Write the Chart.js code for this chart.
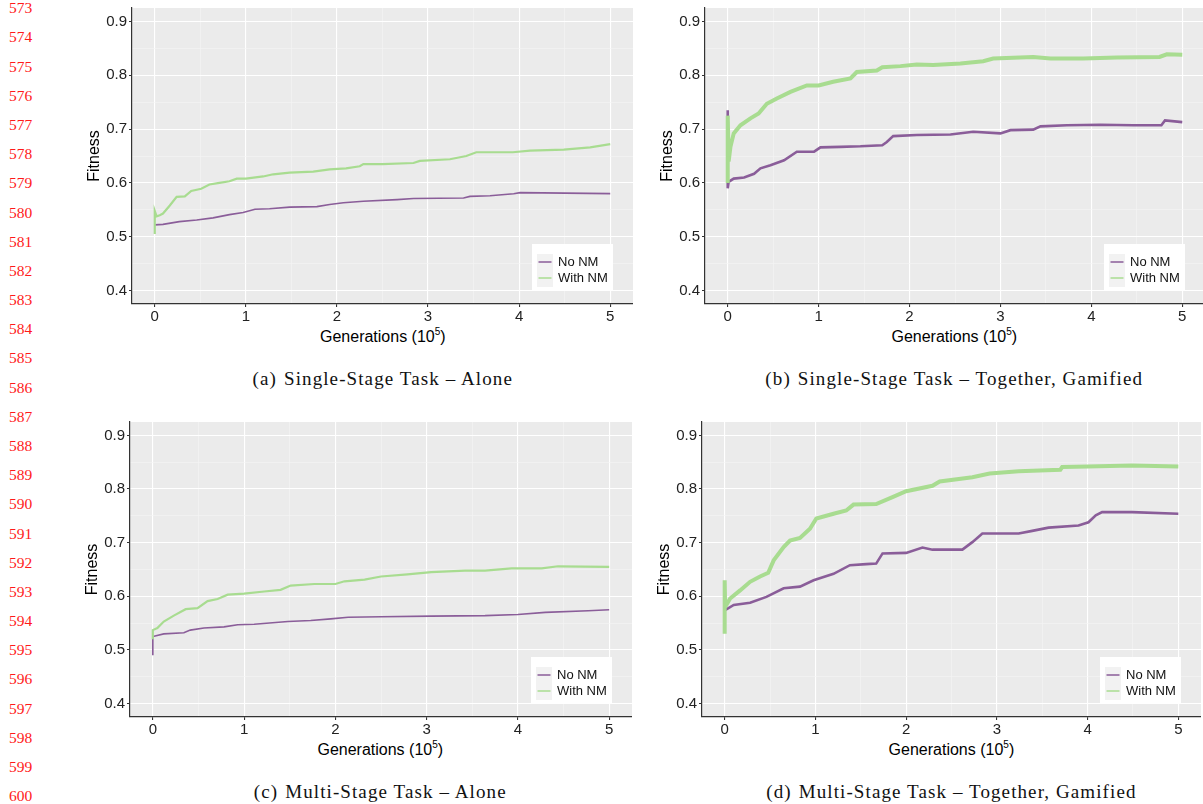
<!DOCTYPE html>
<html>
<head>
<meta charset="utf-8">
<script src="https://cdn.jsdelivr.net/npm/chart.js@4.4.1/dist/chart.umd.min.js"></script>
<style>
    body { margin: 0; width: 1203px; height: 804px; overflow: hidden; background: #fff; position: relative; font-family: "Liberation Sans", Arial, sans-serif; }
    canvas { position: absolute; }
    .lineno { position: absolute; left: 9px; font-family: "Liberation Serif", serif; font-size: 15.5px; line-height: 16px; color: #ff1a1a; }
    .xtitle { position: absolute; font-size: 16px; color: #000; transform: translate(-50%, -50%); white-space: nowrap; }
    .xtitle sup { font-size: 10px; vertical-align: 7px; line-height: 0; }
    .caption { position: absolute; font-family: "Liberation Serif", serif; font-size: 19px; letter-spacing: 1.1px; color: #111; transform: translate(-50%, -50%); white-space: nowrap; }
    .caption .tag { margin-right: 7px; }
</style>
</head>
<body>
<script>
// series names, axis ticks
const seriesNames = ['No NM', 'With NM'];
const xTicks = [0, 1, 2, 3, 4, 5];
const yTicks = [0.4, 0.5, 0.6, 0.7, 0.8, 0.9];

// (a) single-stage, alone  -- [generations (1e5), fitness]
const aNoNM = [[0, 0.522], [0.09, 0.523], [0.27, 0.528], [0.46, 0.531], [0.64, 0.535], [0.82, 0.541], [0.97, 0.545], [1.10, 0.551],
    [1.26, 0.552], [1.48, 0.555], [1.78, 0.556], [1.92, 0.560], [2.07, 0.563], [2.29, 0.566], [2.66, 0.569], [2.84, 0.571],
    [3.39, 0.572], [3.46, 0.575], [3.68, 0.576], [3.94, 0.580], [4.01, 0.582], [5.00, 0.580]];
const aWithNM = [[0, 0.505], [0, 0.548], [0.02, 0.538], [0.055, 0.540], [0.09, 0.543], [0.165, 0.558], [0.24, 0.574], [0.33, 0.575],
    [0.40, 0.585], [0.51, 0.589], [0.60, 0.597], [0.71, 0.600], [0.82, 0.603], [0.90, 0.608], [1.00, 0.608], [1.19, 0.612],
    [1.30, 0.616], [1.48, 0.619], [1.74, 0.621], [1.92, 0.625], [2.10, 0.627], [2.25, 0.631], [2.29, 0.635], [2.50, 0.635],
    [2.84, 0.637], [2.91, 0.641], [3.24, 0.644], [3.42, 0.650], [3.53, 0.657], [3.93, 0.657], [4.12, 0.660], [4.49, 0.662],
    [4.78, 0.666], [5.00, 0.672]];

// (b) single-stage, together
const bNoNM = [[0, 0.735], [0, 0.590], [0.01, 0.602], [0.066, 0.608], [0.18, 0.610], [0.29, 0.617], [0.36, 0.627], [0.47, 0.633],
    [0.62, 0.642], [0.76, 0.658], [0.95, 0.658], [1.02, 0.666], [1.24, 0.667], [1.46, 0.668], [1.70, 0.670], [1.75, 0.676],
    [1.82, 0.687], [2.08, 0.689], [2.45, 0.690], [2.70, 0.695], [3.00, 0.692], [3.11, 0.698], [3.36, 0.699], [3.44, 0.705],
    [3.73, 0.707], [4.10, 0.708], [4.46, 0.707], [4.77, 0.707], [4.81, 0.716], [5.00, 0.713]];
const bWithNM = [[0, 0.600], [0, 0.725], [0.01, 0.640], [0.03, 0.667], [0.066, 0.692], [0.14, 0.707], [0.25, 0.720], [0.34, 0.729],
    [0.43, 0.747], [0.54, 0.757], [0.69, 0.769], [0.87, 0.781], [1.00, 0.781], [1.16, 0.788], [1.35, 0.794], [1.42, 0.806],
    [1.64, 0.809], [1.70, 0.815], [1.90, 0.817], [2.08, 0.820], [2.26, 0.819], [2.56, 0.822], [2.81, 0.826], [2.92, 0.831],
    [3.36, 0.834], [3.55, 0.831], [3.91, 0.831], [4.28, 0.833], [4.75, 0.834], [4.83, 0.839], [5.00, 0.838]];

// (c) multi-stage, alone
const cNoNM = [[0, 0.490], [0, 0.525], [0.12, 0.530], [0.34, 0.532], [0.41, 0.537], [0.56, 0.541], [0.78, 0.543], [0.93, 0.547],
    [1.11, 0.548], [1.48, 0.553], [1.73, 0.555], [1.95, 0.558], [2.14, 0.561], [2.50, 0.562], [3.05, 0.563], [3.64, 0.564],
    [4.00, 0.566], [4.30, 0.570], [4.77, 0.573], [5.00, 0.575]];
const cWithNM = [[0, 0.520], [0, 0.537], [0.05, 0.541], [0.12, 0.553], [0.23, 0.564], [0.36, 0.576], [0.49, 0.578], [0.60, 0.591],
    [0.71, 0.595], [0.82, 0.603], [1.00, 0.605], [1.22, 0.609], [1.40, 0.612], [1.51, 0.620], [1.77, 0.623], [2.00, 0.623],
    [2.10, 0.628], [2.32, 0.631], [2.50, 0.637], [2.79, 0.641], [3.05, 0.645], [3.42, 0.648], [3.64, 0.648], [3.93, 0.652],
    [4.26, 0.652], [4.44, 0.656], [5.00, 0.655]];

// (d) multi-stage, together
const dNoNM = [[0, 0.574], [0.10, 0.584], [0.28, 0.588], [0.46, 0.599], [0.65, 0.615], [0.83, 0.618], [0.98, 0.630], [1.20, 0.642],
    [1.38, 0.658], [1.56, 0.660], [1.67, 0.661], [1.74, 0.680], [2.00, 0.681], [2.18, 0.691], [2.29, 0.687], [2.62, 0.687],
    [2.73, 0.701], [2.84, 0.717], [3.24, 0.717], [3.39, 0.722], [3.57, 0.728], [3.90, 0.732], [4.01, 0.738], [4.09, 0.751],
    [4.16, 0.757], [4.49, 0.757], [5.00, 0.754]];
const dWithNM = [[0, 0.530], [0, 0.630], [0.005, 0.580], [0.06, 0.596], [0.17, 0.611], [0.28, 0.627], [0.39, 0.637], [0.48, 0.644],
    [0.54, 0.667], [0.65, 0.692], [0.72, 0.704], [0.83, 0.709], [0.94, 0.726], [1.01, 0.745], [1.20, 0.754], [1.34, 0.760],
    [1.42, 0.771], [1.67, 0.772], [1.85, 0.785], [2.00, 0.796], [2.29, 0.806], [2.37, 0.814], [2.73, 0.822], [2.92, 0.829],
    [3.24, 0.833], [3.70, 0.836], [3.72, 0.841], [4.00, 0.842], [4.49, 0.844], [5.00, 0.842]];

const captions = [
    ['(a)', 'Single-Stage Task – Alone'],
    ['(b)', 'Single-Stage Task – Together, Gamified'],
    ['(c)', 'Multi-Stage Task – Alone'],
    ['(d)', 'Multi-Stage Task – Together, Gamified'],
];
const firstLineNo = 573;
const lastLineNo = 600;

const PURPLE = '#8a5d99';
const GREEN = '#a8dc90';
const Y_W = 50, X_H = 22, PAD_T = 6;

// plot boxes in page pixels (chart area)
const panels = [
    { noNM: aNoNM, withNM: aWithNM, left: 132.3, right: 633.3, top: 8, bottom: 304, wide: false },
    { noNM: bNoNM, withNM: bWithNM, left: 704.5, right: 1204, top: 8, bottom: 304, wide: true },
    { noNM: cNoNM, withNM: cWithNM, left: 129.5, right: 631, top: 421.7, bottom: 717, wide: false },
    { noNM: dNoNM, withNM: dWithNM, left: 701.8, right: 1201, top: 421.7, bottom: 717, wide: true },
];

// line numbers in the margin
for (let n = firstLineNo; n <= lastLineNo; n++) {
    const el = document.createElement('div');
    el.className = 'lineno';
    el.style.top = (8.3 + 29.18 * (n - firstLineNo) - 8) + 'px';
    el.textContent = n;
    document.body.appendChild(el);
}

// major ticks plus the midpoints between them (minor grid)
const withMinor = (major) => {
    const out = [];
    major.forEach((v, i) => {
        out.push(v);
        if (i < major.length - 1) out.push((v + major[i + 1]) / 2);
    });
    return out;
};
const isMajor = (list, v) => list.some((k) => Math.abs(k - v) < 1e-6);

const panelBg = {
    id: 'panelBg',
    beforeDraw(chart) {
        const { ctx, chartArea: a } = chart;
        ctx.save();
        ctx.fillStyle = '#ebebeb';
        ctx.fillRect(a.left, a.top, a.right - a.left, a.bottom - a.top);
        ctx.restore();
    },
};

const legendBox = {
    id: 'legendBox',
    afterDatasetsDraw(chart) {
        const { ctx, chartArea: a } = chart;
        const w = 81, h = 47;
        const x = a.right - 20 - w;
        const y = a.bottom - 13 - h;
        ctx.save();
        ctx.fillStyle = '#ffffff';
        ctx.fillRect(x, y, w, h);
        ctx.fillStyle = '#f2f2f2';
        ctx.fillRect(x + 5, y + 10, 16, 33);
        chart.data.datasets.forEach((ds, i) => {
            const cy = y + 18 + i * 16;
            ctx.strokeStyle = ds.borderColor;
            ctx.lineWidth = 1.5;
            ctx.beginPath();
            ctx.moveTo(x + 6.5, cy);
            ctx.lineTo(x + 19.5, cy);
            ctx.stroke();
            ctx.fillStyle = '#111';
            ctx.font = '13px "Liberation Sans", Arial, sans-serif';
            ctx.textBaseline = 'middle';
            ctx.fillText(ds.label, x + 26, cy + 0.5);
        });
        ctx.restore();
    },
};

const toXY = (arr) => arr.map(([x, y]) => ({ x, y }));
const sans = '"Liberation Sans", Arial, sans-serif';

panels.forEach((p, i) => {
    const canvas = document.createElement('canvas');
    const cl = p.left - Y_W;
    canvas.width = Math.round(p.right - cl);
    canvas.height = Math.round(p.bottom - p.top + PAD_T + X_H);
    canvas.style.left = cl + 'px';
    canvas.style.top = (p.top - PAD_T) + 'px';
    document.body.appendChild(canvas);

    new Chart(canvas.getContext('2d'), {
        type: 'scatter',
        data: {
            datasets: [
                {
                    label: seriesNames[0],
                    data: toXY(p.noNM),
                    showLine: true,
                    borderColor: PURPLE,
                    borderWidth: p.wide ? 2.6 : 1.6,
                    pointRadius: 0,
                    order: 1,
                },
                {
                    label: seriesNames[1],
                    data: toXY(p.withNM),
                    showLine: true,
                    borderColor: GREEN,
                    borderWidth: p.wide ? 4 : 2.2,
                    pointRadius: 0,
                    order: 0,
                },
            ],
        },
        options: {
            responsive: false,
            animation: false,
            devicePixelRatio: 1,
            layout: { padding: { top: PAD_T, right: 0, left: 0, bottom: 0 } },
            plugins: { legend: { display: false }, tooltip: { enabled: false } },
            scales: {
                x: {
                    type: 'linear',
                    min: -0.25,
                    max: 5.25,
                    afterFit(s) {
                        s.height = X_H;
                        s.paddingLeft = 0;
                        s.paddingRight = 0;
                    },
                    afterBuildTicks(s) { s.ticks = withMinor(xTicks).map((v) => ({ value: v })); },
                    ticks: {
                        autoSkip: false,
                        maxRotation: 0,
                        padding: 1,
                        color: '#222',
                        font: { size: 15, family: sans },
                        callback: (v) => (isMajor(xTicks, v) ? String(Math.round(v)) : ''),
                    },
                    grid: {
                        color: (c) => (isMajor(xTicks, c.tick.value) ? '#ffffff' : '#f5f5f5'),
                        lineWidth: (c) => (isMajor(xTicks, c.tick.value) ? 1.1 : 0.6),
                        tickLength: 3,
                        tickColor: (c) => (isMajor(xTicks, c.tick.value) ? '#333' : 'rgba(0,0,0,0)'),
                    },
                    border: { display: true, color: '#333', width: 1.2 },
                },
                y: {
                    type: 'linear',
                    min: 0.375,
                    max: 0.925,
                    afterFit(s) {
                        s.width = Y_W;
                        s.paddingTop = 0;
                        s.paddingBottom = 0;
                    },
                    afterBuildTicks(s) { s.ticks = withMinor(yTicks).map((v) => ({ value: v })); },
                    title: {
                        display: true,
                        text: 'Fitness',
                        color: '#000',
                        font: { size: 16, family: sans },
                        padding: { top: 3, bottom: 0 },
                    },
                    ticks: {
                        autoSkip: false,
                        padding: 2,
                        color: '#222',
                        font: { size: 15, family: sans },
                        callback: (v) => (isMajor(yTicks, v) ? v.toFixed(1) : ''),
                    },
                    grid: {
                        color: (c) => (isMajor(yTicks, c.tick.value) ? '#ffffff' : '#f5f5f5'),
                        lineWidth: (c) => (isMajor(yTicks, c.tick.value) ? 1.1 : 0.6),
                        tickLength: 3,
                        tickColor: (c) => (isMajor(yTicks, c.tick.value) ? '#333' : 'rgba(0,0,0,0)'),
                    },
                    border: { display: true, color: '#333', width: 1.2 },
                },
            },
        },
        plugins: [panelBg, legendBox],
    });

    const cx = (p.left + p.right) / 2;
    const xt = document.createElement('div');
    xt.className = 'xtitle';
    xt.style.left = cx + 'px';
    xt.style.top = (p.bottom + 33) + 'px';
    xt.innerHTML = 'Generations (10<sup>5</sup>)';
    document.body.appendChild(xt);

    const cap = document.createElement('div');
    cap.className = 'caption';
    cap.style.left = cx + 'px';
    cap.style.top = (p.bottom + 75) + 'px';
    cap.innerHTML = '<span class="tag">' + captions[i][0] + '</span>' + captions[i][1];
    document.body.appendChild(cap);
});
</script>
</body>
</html>
